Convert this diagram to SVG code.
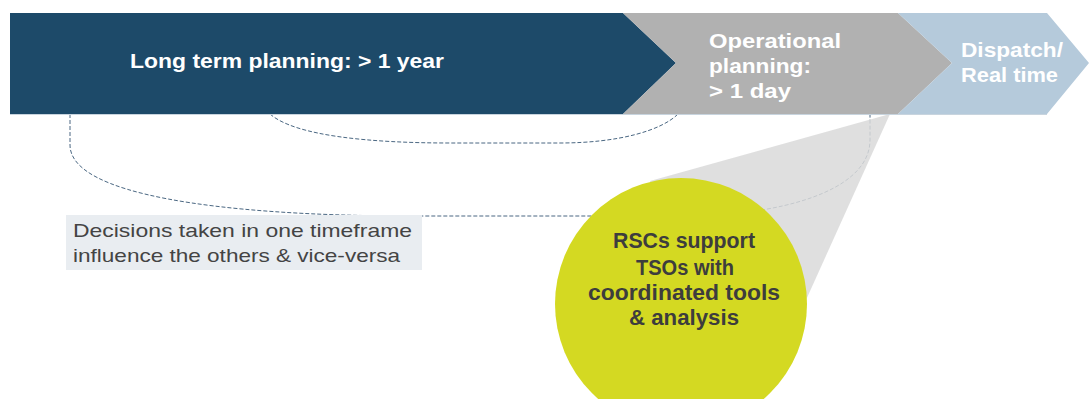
<svg xmlns="http://www.w3.org/2000/svg" width="1089" height="399" viewBox="0 0 1089 399">
<style>
.wt{font-family:"Liberation Sans",Arial,sans-serif;font-weight:bold;fill:#ffffff;font-size:21px;}
.ct{font-family:"Liberation Sans",Arial,sans-serif;font-weight:bold;fill:#3d3d3d;font-size:21.5px;text-anchor:middle;}
.bt{font-family:"Liberation Sans",Arial,sans-serif;fill:#444444;font-size:18.5px;}
.dash{fill:none;stroke:#4a6782;stroke-width:1;stroke-dasharray:4 2;}
</style>
<rect width="1089" height="399" fill="#ffffff"/>
<g id="connectors">
<path class="dash" d="M70,114 V145 C70,195 220,215 400,216 H700 C800,212 870,185 870,140 V114"/>
<path class="dash" d="M270,114 C295,136 370,143 450,143 H560 C620,143 662,130 678,114"/>
</g>
<g id="callout">
<polygon points="650,181 890,114 806,300 681,303" fill="#d9d9d9" opacity="0.85"/>
</g>
<g id="long-term">
<polygon points="10,13 623,13 676,63 623,114 10,114" fill="#1d4a69"/>
<text class="wt" x="130" y="68" textLength="314" lengthAdjust="spacingAndGlyphs">Long term planning: &gt; 1 year</text>
</g>
<g id="operational">
<polygon points="623,13 898,13 952,63 898,114 623,114 676,63" fill="#b1b1b1"/>
<text class="wt" x="709" y="48" textLength="132" lengthAdjust="spacingAndGlyphs">Operational</text>
<text class="wt" x="709" y="73" textLength="102" lengthAdjust="spacingAndGlyphs">planning:</text>
<text class="wt" x="709" y="98" textLength="82" lengthAdjust="spacingAndGlyphs">&gt; 1 day</text>
</g>
<g id="dispatch">
<polygon points="898,13 1047,13 1089,63 1047,114 898,114 952,63" fill="#b5cadb"/>
<text class="wt" x="961" y="57" textLength="102" lengthAdjust="spacingAndGlyphs">Dispatch/</text>
<text class="wt" x="961" y="82" textLength="97" lengthAdjust="spacingAndGlyphs">Real time</text>
</g>
<line x1="10" y1="114.5" x2="1047" y2="114.5" stroke="#c8d4de" stroke-width="1"/>
<g id="note">
<rect x="66" y="215" width="356" height="55" fill="#e9edf1"/>
<text class="bt" x="73" y="237" textLength="339" lengthAdjust="spacingAndGlyphs">Decisions taken in one timeframe</text>
<text class="bt" x="73" y="262" textLength="327" lengthAdjust="spacingAndGlyphs">influence the others &amp; vice-versa</text>
</g>
<g id="rsc">
<circle cx="681" cy="304" r="126" fill="#d4d922"/>
<text class="ct" x="684" y="248" textLength="142" lengthAdjust="spacingAndGlyphs">RSCs support</text>
<text class="ct" x="685" y="275" textLength="98" lengthAdjust="spacingAndGlyphs">TSOs with</text>
<text class="ct" x="684" y="300" textLength="192" lengthAdjust="spacingAndGlyphs">coordinated tools</text>
<text class="ct" x="684" y="325" textLength="110" lengthAdjust="spacingAndGlyphs">&amp; analysis</text>
</g>
</svg>
